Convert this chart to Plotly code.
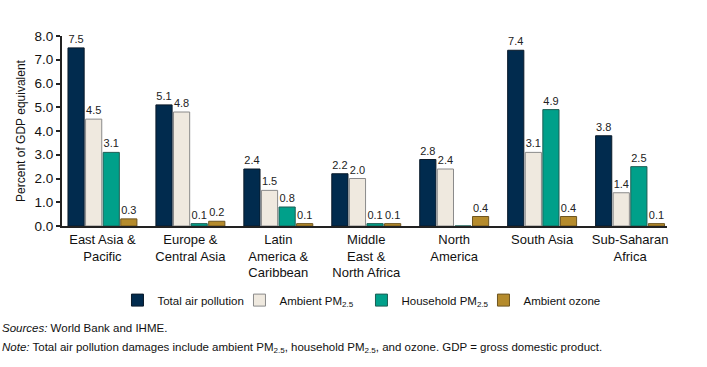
import plotly.graph_objects as go

categories = ["East Asia &<br>Pacific", "Europe &<br>Central Asia", "Latin<br>America &<br>Caribbean",
              "Middle<br>East &<br>North Africa", "North<br>America", "South Asia", "Sub-Saharan<br>Africa"]
total_air = [7.5, 5.1, 2.4, 2.2, 2.8, 7.4, 3.8]
ambient_pm = [4.5, 4.8, 1.5, 2.0, 2.4, 3.1, 1.4]
household_pm = [3.1, 0.1, 0.8, 0.1, 0.0, 4.9, 2.5]
ambient_ozone = [0.3, 0.2, 0.1, 0.1, 0.4, 0.4, 0.1]
y_ticks = [0, 1, 2, 3, 4, 5, 6, 7, 8]

series = [
    ("Total air pollution", total_air, "#012B4E", "#0a1a2a"),
    ("Ambient PM<sub>2.5</sub>", ambient_pm, "#EFE9DF", "#8a8a8a"),
    ("Household PM<sub>2.5</sub>", household_pm, "#00A08A", "#1d5e54"),
    ("Ambient ozone", ambient_ozone, "#B58B2C", "#6e5520"),
]

fig = go.Figure()
for name, vals, color, line in series:
    fig.add_trace(go.Bar(
        x=categories, y=vals, name=name,
        marker=dict(color=color, line=dict(color=line, width=1)),
        text=[f"{v:.1f}" if v > 0 else "" for v in vals],
        textposition="outside", cliponaxis=False,
        textfont=dict(family="Liberation Sans, Arial, sans-serif", size=11, color="#222"),
    ))

fam = "Liberation Sans, Arial, sans-serif"
fig.update_layout(
    width=707, height=367,
    margin=dict(l=62, r=40, t=36, b=141, autoexpand=False),
    plot_bgcolor="white", paper_bgcolor="white",
    barmode="group", bargap=0.2, bargroupgap=0.08,
    font=dict(family=fam, color="#111"),
    showlegend=True,
    legend=dict(orientation="h", x=0.495, xanchor="center", y=-0.39, yanchor="middle",
                font=dict(family=fam, size=11.5), itemwidth=30, entrywidth=77,
                bgcolor="rgba(0,0,0,0)", traceorder="normal"),
    xaxis=dict(range=[-0.46, 6.42], showline=True, linecolor="#222", linewidth=2,
               ticks="", tickfont=dict(size=13, color="#111"), fixedrange=True, automargin=False),
    yaxis=dict(range=[0, 8], tickvals=y_ticks, tickformat=".1f", showgrid=False,
               showline=True, linecolor="#222", linewidth=2, ticks="outside", ticklen=4,
               tickwidth=1.5, tickcolor="#222",
               tickfont=dict(size=13.5, color="#111"), zeroline=False, automargin=False,
               title=dict(text="Percent of GDP equivalent", font=dict(size=12), standoff=6)),
    annotations=[
        dict(xref="paper", yref="paper", x=-0.1025, y=-0.535, xanchor="left", yanchor="middle",
             showarrow=False, text="<i>Sources:</i> World Bank and IHME.",
             font=dict(family=fam, size=11.5)),
        dict(xref="paper", yref="paper", x=-0.1025, y=-0.64, xanchor="left", yanchor="middle",
             showarrow=False,
             text="<i>Note:</i> Total air pollution damages include ambient PM<sub>2.5</sub>, household PM<sub>2.5</sub>, and ozone. GDP = gross domestic product.",
             font=dict(family=fam, size=11.5)),
    ],
)
fig.write_html("out.html", config={"displayModeBar": False},
               post_script="document.body.style.margin='0';")
